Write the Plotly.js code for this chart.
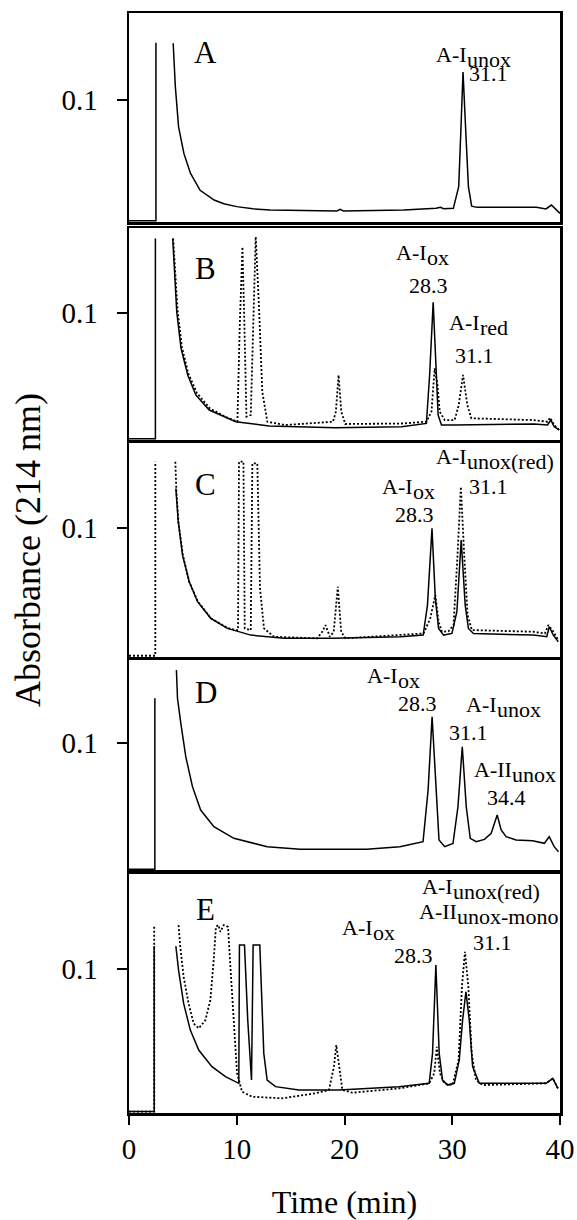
<!DOCTYPE html>
<html>
<head>
<meta charset="utf-8">
<script src="https://cdn.plot.ly/plotly-3.0.1.min.js"></script>
<style>html,body{margin:0;padding:0;background:#fff;}</style>
</head>
<body>
<div id="chart" style="width:577px;height:1220px;"></div>
<script>
// ---------- DATA (time in min, absorbance at 214 nm) ----------
// Panel A (solid)
const aTime = [0, 2.5, 2.5, null, 4.1, 4.3, 4.6, 5.1, 5.7, 6.6, 7.9, 8.8, 10.0, 11.5, 13.1, 16.0, 19.3, 19.6, 19.9, 25.5, 28.5, 28.9, 29.2, 30.1, 30.6, 30.8, 31.0, 31.25, 31.5, 31.8, 32.3, 37.8, 38.7, 39.2, 39.7, 40];
const aAbs  = [0.001, 0.001, 0.147, null, 0.1465, 0.111, 0.078, 0.056, 0.040, 0.026, 0.018, 0.0149, 0.0126, 0.0108, 0.0098, 0.0092, 0.009, 0.0104, 0.009, 0.0098, 0.0112, 0.012, 0.0109, 0.0112, 0.029, 0.075, 0.123, 0.075, 0.029, 0.013, 0.012, 0.012, 0.0107, 0.0139, 0.0093, 0.0071];

// Panel B
const bTime = [0, 2.45, 2.45, null, 4.06, 4.22, 4.43, 4.83, 5.45, 6.21, 7.45, 9.91, 12.99, 19.14, 25.3, 27.6, 27.9, 28.23, 28.47, 28.69, 29.0, 30.22, 37.6, 38.84, 39.15, 39.46, 39.92];
const bAbs  = [0.001, 0.001, 0.1587, null, 0.1587, 0.1299, 0.101, 0.0722, 0.0512, 0.0354, 0.0236, 0.0144, 0.011, 0.0097, 0.0105, 0.0131, 0.0512, 0.1084, 0.0564, 0.0197, 0.0118, 0.0118, 0.0126, 0.0118, 0.0157, 0.0105, 0.0079];
const bDotTime = [4.1, 4.3, 4.5, 4.9, 5.5, 6.3, 7.5, 9.0, 10.06, 10.28, 10.53, 10.71, 10.9, 11.3, 11.51, 11.76, 12.07, 12.37, 12.84, 14.5, 18.93, 19.2, 19.45, 19.7, 20.07, 25.3, 27.6, 28.07, 28.37, 28.62, 28.84, 29.3, 30.22, 30.6, 31.0, 31.4, 31.77, 37.6, 38.84, 39.08, 39.46, 39.92];
const bDotAbs  = [0.1587, 0.131, 0.103, 0.0735, 0.0525, 0.037, 0.025, 0.018, 0.0144, 0.0905, 0.152, 0.0905, 0.0184, 0.0197, 0.0905, 0.16, 0.1036, 0.038, 0.0144, 0.0118, 0.0144, 0.0223, 0.0512, 0.0223, 0.0126, 0.013, 0.0144, 0.0223, 0.0564, 0.044, 0.0223, 0.0157, 0.0157, 0.0275, 0.0512, 0.0275, 0.0171, 0.0157, 0.0144, 0.0176, 0.0118, 0.0079];

// Panel C
const cTime = [4.35, 4.57, 4.97, 5.59, 6.36, 7.59, 9.14, 11.3, 14.38, 19.0, 25.19, 27.3, 27.7, 28.12, 28.43, 28.73, 29.2, 29.97, 30.43, 30.83, 31.2, 31.5, 31.97, 37.53, 38.77, 39.0, 39.38, 39.84];
const cAbs  = [0.1307, 0.1049, 0.079, 0.0584, 0.0429, 0.030, 0.0222, 0.017, 0.0145, 0.0145, 0.0157, 0.017, 0.0403, 0.0997, 0.0455, 0.0222, 0.017, 0.0183, 0.0351, 0.0907, 0.0403, 0.0222, 0.0183, 0.017, 0.0157, 0.0235, 0.017, 0.0119];
const cDotTime = [0, 2.44, 2.44, null, 4.3, 4.4, 4.6, 5.0, 5.6, 6.4, 7.6, 9.14, 9.9, 10.12, 10.21, 10.62, 10.74, 11.3, 11.45, 11.91, 12.16, 12.53, 13.46, 17.47, 17.93, 18.24, 18.64, 19.0, 19.38, 19.69, 20.09, 25.19, 27.34, 27.96, 28.43, 28.73, 29.04, 29.66, 30.12, 30.49, 30.8, 31.11, 31.42, 31.82, 37.53, 38.6, 38.92, 39.38, 39.84];
const cDotAbs  = [0.001, 0.001, 0.1514, null, 0.1514, 0.128, 0.104, 0.079, 0.058, 0.043, 0.030, 0.0225, 0.0209, 0.0209, 0.1514, 0.1514, 0.0222, 0.0209, 0.1501, 0.1501, 0.0532, 0.0222, 0.0157, 0.0145, 0.0196, 0.0248, 0.0157, 0.0196, 0.0545, 0.0196, 0.0145, 0.017, 0.0183, 0.030, 0.048, 0.0274, 0.0196, 0.02, 0.0248, 0.079, 0.132, 0.079, 0.0326, 0.0209, 0.0196, 0.0183, 0.0248, 0.0196, 0.0132];

// Panel D (solid)
const dTime = [0, 2.4, 2.4, null, 4.4, 4.5, 4.81, 5.27, 5.89, 6.65, 7.88, 9.73, 12.82, 15.9, 22.06, 25.14, 27.29, 27.76, 28.13, 28.47, 28.77, 29.3, 30.07, 30.53, 30.93, 31.3, 31.67, 32.22, 32.99, 33.61, 34.17, 34.54, 35.0, 35.92, 37.46, 38.54, 39.0, 39.46, 39.86];
const dAbs  = [0.0013, 0.0013, 0.1349, null, 0.157, 0.1349, 0.1153, 0.0893, 0.0659, 0.0476, 0.0346, 0.0255, 0.019, 0.0169, 0.0169, 0.019, 0.0229, 0.0633, 0.1205, 0.0633, 0.0242, 0.019, 0.0216, 0.0502, 0.0971, 0.0502, 0.0255, 0.0229, 0.0247, 0.0294, 0.0437, 0.032, 0.0268, 0.0242, 0.0237, 0.0216, 0.0268, 0.019, 0.0151];

// Panel E
const eTime = [0, 2.34, 2.34, null, 4.35, 4.6, 5.07, 5.69, 6.47, 7.7, 8.95, 10.12, 10.19, 10.25, 10.72, 11.02, 11.37, 11.52, 12.14, 12.51, 12.82, 13.6, 15.77, 18.56, 19.49, 25.07, 27.86, 28.17, 28.48, 28.79, 29.1, 29.56, 30.19, 30.65, 30.96, 31.27, 31.58, 31.89, 32.51, 37.47, 38.72, 39.33, 39.8];
const eAbs  = [0.001, 0.001, 0.1159, null, 0.1159, 0.0992, 0.0761, 0.0576, 0.0437, 0.0322, 0.0252, 0.0206, 0.0206, 0.1166, 0.1166, 0.0645, 0.0229, 0.1166, 0.1166, 0.0414, 0.0229, 0.0183, 0.016, 0.016, 0.016, 0.0183, 0.0206, 0.0414, 0.1027, 0.0414, 0.0229, 0.0194, 0.0206, 0.0368, 0.0645, 0.0842, 0.0645, 0.0322, 0.0206, 0.0206, 0.0206, 0.0241, 0.0171];
const eDotTime = [0, 2.34, 2.34, null, 4.6, 4.76, 5.07, 5.53, 6.0, 6.47, 7.09, 7.55, 7.86, 8.07, 8.3, 8.48, 8.79, 9.19, 9.41, 9.72, 10.03, 10.49, 11.42, 14.21, 17.32, 18.56, 19.02, 19.24, 19.49, 19.8, 20.72, 25.07, 27.86, 28.33, 28.57, 28.86, 29.26, 30.03, 30.59, 30.9, 31.18, 31.49, 31.8, 32.2, 32.82, 37.47, 38.72, 39.33, 39.8];
const eDotAbs  = [0.001, 0.001, 0.1305, null, 0.1305, 0.1154, 0.0946, 0.0761, 0.0622, 0.0588, 0.0645, 0.0784, 0.1062, 0.1293, 0.1305, 0.1258, 0.1305, 0.1293, 0.1017, 0.06, 0.0276, 0.0148, 0.0113, 0.0102, 0.0137, 0.016, 0.0322, 0.0472, 0.0322, 0.016, 0.0141, 0.0171, 0.0206, 0.0276, 0.046, 0.0276, 0.0206, 0.0194, 0.0368, 0.088, 0.112, 0.088, 0.0414, 0.0229, 0.0194, 0.0206, 0.0206, 0.0241, 0.0171];

// Axis tick labels and panel names
const timeTicks = [0, 10, 20, 30, 40];
const absTicks = [0.1];
const absTickText = ['0.1'];
const panelNames = ['A', 'B', 'C', 'D', 'E'];

// ---------- PLOT ----------
const FONT = 'Liberation Serif, Times New Roman, serif';
const SOLID = {color: '#000', width: 1.5};
const DOT = {color: '#000', width: 1.8, dash: '2px,2px'};

function tr(x, y, n, line) {
  const s = n === 1 ? '' : String(n);
  return {x: x, y: y, xaxis: 'x' + s, yaxis: 'y' + s, type: 'scatter', mode: 'lines',
          line: line, connectgaps: false, hoverinfo: 'skip'};
}

const data = [
  tr(aTime, aAbs, 1, SOLID),
  tr(bDotTime, bDotAbs, 2, DOT),
  tr(bTime, bAbs, 2, SOLID),
  tr(cDotTime, cDotAbs, 3, DOT),
  tr(cTime, cAbs, 3, SOLID),
  tr(dTime, dAbs, 4, SOLID),
  tr(eDotTime, eDotAbs, 5, DOT),
  tr(eTime, eAbs, 5, SOLID)
];

const domains = [[0.81, 1.0], [0.6118, 0.8045], [0.4145, 0.6091], [0.22, 0.4118], [0, 0.2182]];
const ranges = [0.1713, 0.1669, 0.1659, 0.1648, 0.1667];

const layout = {
  width: 577, height: 1220,
  margin: {l: 129, r: 17, t: 13, b: 107, pad: 0},
  showlegend: false,
  paper_bgcolor: '#fff', plot_bgcolor: '#fff',
  font: {family: FONT, color: '#000', size: 22},
  annotations: []
};

for (let i = 0; i < 5; i++) {
  const s = i === 0 ? '' : String(i + 1);
  const last = i === 4;
  layout['xaxis' + s] = {
    domain: [0, 1], anchor: 'y' + s, range: [0, 40],
    showline: true, mirror: true, linecolor: '#000', linewidth: 2.5,
    showgrid: false, zeroline: false, fixedrange: true,
    ticks: last ? 'outside' : '', ticklen: 9, tickwidth: 2, tickcolor: '#000',
    showticklabels: last, tickvals: timeTicks, ticktext: timeTicks.map(String),
    tickfont: {family: FONT, size: 29, color: '#000'},
    ticklabelstandoff: 0
  };
  if (last) {
    layout['xaxis' + s].title = {text: 'Time (min)', font: {family: FONT, size: 32, color: '#000'}, standoff: 33};
  }
  layout['yaxis' + s] = {
    domain: domains[i], anchor: 'x' + s, range: [0, ranges[i]],
    showline: true, mirror: true, linecolor: '#000', linewidth: 2.5,
    showgrid: false, zeroline: false, fixedrange: true,
    ticks: 'outside', ticklen: 10, tickwidth: 2, tickcolor: '#000',
    tickvals: absTicks, ticktext: absTickText,
    tickfont: {family: FONT, size: 29, color: '#000'},
    ticklabelstandoff: 13
  };
  if (i === 2) {
    layout['yaxis' + s].title = {text: 'Absorbance (214 nm)', font: {family: FONT, size: 36, color: '#000'}, standoff: 10};
  }
}

function ann(n, x, y, text, opts) {
  const s = n === 1 ? '' : String(n);
  const o = opts || {};
  layout.annotations.push({xref: 'x' + s, yref: 'y' + s, x: x, y: y, text: text,
    showarrow: false, xanchor: o.xanchor || 'center', yanchor: 'middle',
    yshift: o.yshift || 0, borderpad: 0, borderwidth: 0,
    font: {family: FONT, size: o.size || 22, color: '#000'}});
}
// compound label: main text ends at xs, subscript (same size, lowered) starts at xs
function lab(n, xs, y, main, subText) {
  ann(n, xs, y, main, {xanchor: 'right'});
  ann(n, xs, y, subText, {xanchor: 'left', yshift: -5});
}

// panel letters
const letterY = [0.1393, 0.1354, 0.1341, 0.1398, 0.1416];
panelNames.forEach((p, i) => ann(i + 1, 7.1, letterY[i], p, {size: 31}));

// Panel A labels
lab(1, 31.37, 0.137, 'A-I', 'unox');
ann(1, 33.32, 0.1215, '31.1');
// Panel B labels
lab(2, 27.66, 0.1476, 'A-I', 'ox');
ann(2, 27.84, 0.122, '28.3');
lab(2, 32.58, 0.0929, 'A-I', 'red');
ann(2, 32.11, 0.0669, '31.1');
// Panel C labels
lab(3, 31.37, 0.1552, 'A-I', 'unox(red)');
ann(3, 33.32, 0.1323, '31.1');
lab(3, 26.36, 0.1321, 'A-I', 'ox');
ann(3, 26.45, 0.1108, '28.3');
// Panel D labels
lab(4, 24.97, 0.1527, 'A-I', 'ox');
ann(4, 26.73, 0.1312, '28.3');
lab(4, 34.15, 0.1304, 'A-I', 'unox');
ann(4, 31.55, 0.1078, '31.1');
lab(4, 35.55, 0.0793, 'A-II', 'unox');
ann(4, 34.99, 0.0578, '34.4');
// Panel E labels
lab(5, 30.07, 0.1575, 'A-I', 'unox(red)');
lab(5, 30.45, 0.1402, 'A-II', 'unox-mono');
lab(5, 22.65, 0.1287, 'A-I', 'ox');
ann(5, 26.36, 0.1097, '28.3');
ann(5, 33.69, 0.1187, '31.1');

Plotly.newPlot('chart', data, layout, {displayModeBar: false, staticPlot: true});
</script>
</body>
</html>
